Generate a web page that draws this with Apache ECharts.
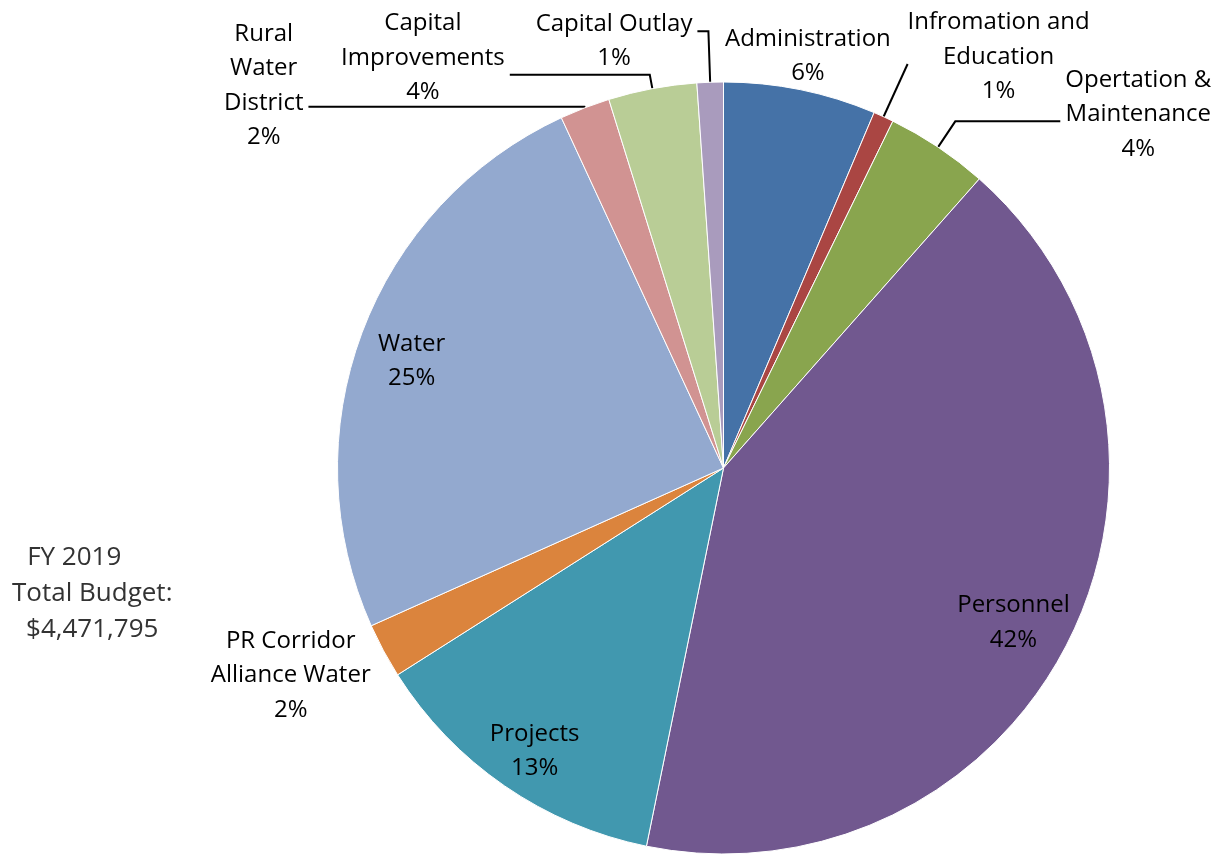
<!DOCTYPE html>
<html>
<head>
<meta charset="utf-8">
<script src="https://cdn.jsdelivr.net/npm/echarts@6/dist/echarts.min.js"></script>
<style>
  html, body { margin: 0; padding: 0; background: #fff; }
  #chart { width: 1221px; height: 856px; }
</style>
</head>
<body>
<div id="chart"></div>
<script>
// FY 2019 budget shares in percent, read clockwise from 12 o'clock
const categories = ['Administration', 'Infromation and\nEducation', 'Opertation &\nMaintenance', 'Personnel', 'Projects',
    'PR Corridor\nAlliance Water', 'Water', 'Rural\nWater\nDistrict', 'Capital\nImprovements', 'Capital Outlay'];
const shares = [6.38, 0.85, 4.3, 41.67, 12.8, 2.3, 24.8, 2.1, 3.7, 1.1];
const totalLines = ['FY 2019', 'Total Budget:', '$4,471,795'];

const colorList = ['#4572A7', '#AA4643', '#89A54E', '#71588F', '#4198AF',
    '#DB843D', '#93A9CF', '#D19392', '#B9CD96', '#A99BBD'];

const FONT = '"Open Sans", "DejaVu Sans", sans-serif';
const CENTER = [723.5, 468];
const R = 386;

// leader-line labels (index -> label line / padding tweaks)
const outerLabels = {
    1: {length: 58, length2: 0, dist: 0, pad: [0, 0, 14, 0]},
    2: {length: 31, length2: 105, dist: 5, pad: [0, 0, 14, 0]},
    7: {length: 1, length2: 276, dist: 5, pad: [0, 0, 42, 0]},
    8: {length: 14, length2: 140, dist: 5, pad: [0, 0, 34, 0]},
    9: {length: 51, length2: 11, dist: 5, pad: [20, 0, 0, 0]}
};
// labels without leader lines, placed on invisible rings
const ringLabels = [
    {radius: [310, 350], items: {3: [12, 16, 0, 0], 4: [18, 0, 0, 0], 6: [20, 0, 0, 0]}},
    {radius: [400, 442], items: {0: [7, 0, 0, 0]}},
    {radius: [456, 498], items: {5: [0, 20, 40, 0]}}
];

const rich = {
    c: {
        align: 'center',
        fontFamily: FONT,
        fontSize: 24,
        fontWeight: 'normal',
        lineHeight: 34.5,
        color: '#000',
        textBorderWidth: 0
    }
};

function labelText(p) {
    const lines = p.name.split('\n').concat(Math.round(p.percent) + '%');
    return lines.map(l => '{c|' + l + '}').join('\n');
}

const mainData = categories.map((name, i) => {
    const o = outerLabels[i];
    const item = {name: name, value: shares[i], itemStyle: {color: colorList[i]}};
    if (o) {
        item.label = {show: true, position: 'outside', distanceToLabelLine: o.dist, padding: o.pad};
        item.labelLine = {show: true, length: o.length, length2: o.length2};
    } else {
        item.label = {show: false};
        item.labelLine = {show: false};
    }
    return item;
});

const ringSeries = ringLabels.map(ring => ({
    type: 'pie',
    silent: true,
    center: CENTER,
    radius: ring.radius,
    avoidLabelOverlap: false,
    itemStyle: {color: 'rgba(0,0,0,0)', borderWidth: 0},
    emphasis: {disabled: true},
    labelLine: {show: false},
    label: {show: false, position: 'inside', formatter: labelText, rich: rich, color: '#000', textBorderWidth: 0},
    data: categories.map((name, i) => {
        const pad = ring.items[i];
        return {
            name: name,
            value: shares[i],
            label: pad ? {show: true, padding: pad} : {show: false}
        };
    })
}));

const titleStyle = {align: 'center', fontFamily: FONT, fontSize: 26, fontWeight: 'normal', lineHeight: 36, color: '#333'};

const myChart = echarts.init(document.getElementById('chart'));
const option = {
    backgroundColor: '#fff',
    animation: false,
    title: {
        text: '{a|' + totalLines[0] + '}\n{b|' + totalLines[1] + '}\n{b|' + totalLines[2] + '}',
        left: 12,
        top: 540,
        padding: 0,
        textStyle: {
            fontWeight: 'normal',
            rich: {
                a: Object.assign({padding: [0, 36, 0, 0]}, titleStyle),
                b: titleStyle
            }
        }
    },
    series: [
        {
            type: 'pie',
            center: CENTER,
            radius: [0, R],
            startAngle: 90,
            clockwise: true,
            avoidLabelOverlap: false,
            labelLayout: {hideOverlap: false},
            emphasis: {scale: false},
            itemStyle: {borderColor: '#fff', borderWidth: 1},
            label: {formatter: labelText, rich: rich, color: '#000'},
            labelLine: {lineStyle: {color: '#000', width: 2}, smooth: false},
            data: mainData
        }
    ].concat(ringSeries)
};

option && myChart.setOption(option);
</script>
</body>
</html>
